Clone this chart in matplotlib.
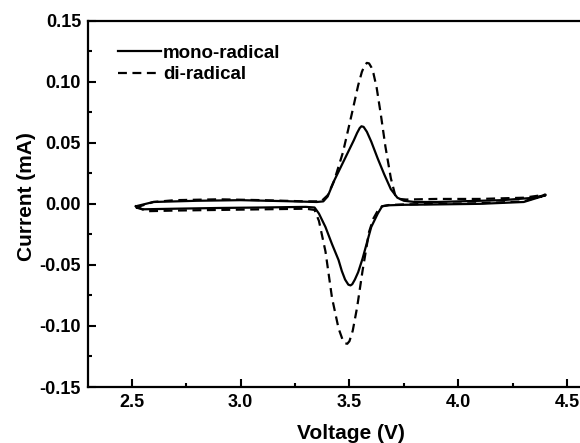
import matplotlib
matplotlib.use("Agg")
from matplotlib import pyplot as plt
from matplotlib.ticker import MultipleLocator

plt.rcParams['font.family'] = ['Liberation Sans', 'DejaVu Sans']
plt.rcParams['font.weight'] = 'bold'

# mono-radical, anodic sweep then cathodic sweep
mono_v = [2.52, 2.6, 2.8, 3.0, 3.2, 3.35, 3.38, 3.40, 3.43, 3.46, 3.49, 3.52, 3.535, 3.547, 3.555,
          3.565, 3.58, 3.60, 3.63, 3.66, 3.69, 3.72, 3.75, 3.8, 3.9, 4.0, 4.2, 4.35, 4.40,
          4.3, 4.1, 3.9, 3.75, 3.68, 3.65, 3.63, 3.60, 3.58, 3.56, 3.54, 3.525, 3.513, 3.505, 3.495,
          3.48, 3.465, 3.45, 3.42, 3.39, 3.36, 3.34, 3.3, 3.1, 2.9, 2.7, 2.55, 2.52]
mono_i = [-0.002, 0.0015, 0.0025, 0.003, 0.0022, 0.0015, 0.002, 0.006, 0.019, 0.030, 0.041, 0.052, 0.058, 0.062, 0.0635,
          0.063, 0.059, 0.051, 0.037, 0.024, 0.012, 0.005, 0.0025, 0.0015, 0.0015, 0.002, 0.003, 0.005, 0.007,
          0.0015, 0.0, -0.0005, -0.0008, -0.0012, -0.002, -0.008, -0.019, -0.032, -0.045, -0.056, -0.062, -0.0658, -0.0668, -0.0662,
          -0.062, -0.055, -0.046, -0.033, -0.019, -0.008, -0.003, -0.0025, -0.003, -0.0034, -0.004, -0.0045, -0.002]

# di-radical, anodic sweep then cathodic sweep
di_v = [2.52, 2.6, 2.7, 2.9, 3.1, 3.3, 3.37, 3.40, 3.43, 3.47, 3.51, 3.54, 3.557, 3.57, 3.58,
        3.59, 3.60, 3.61, 3.625, 3.645, 3.665, 3.69, 3.71, 3.73, 3.76, 3.9, 4.1, 4.3, 4.40,
        4.3, 4.1, 3.9, 3.75, 3.68, 3.65, 3.635, 3.61, 3.59, 3.56, 3.535, 3.515, 3.50, 3.49,
        3.48, 3.468, 3.45, 3.42, 3.39, 3.36, 3.34, 3.3, 3.1, 2.9, 2.7, 2.58, 2.52]
di_i = [-0.003, 0.0015, 0.003, 0.0037, 0.003, 0.002, 0.002, 0.007, 0.019, 0.042, 0.073, 0.097, 0.108, 0.1135, 0.1154,
        0.1150, 0.112, 0.107, 0.095, 0.072, 0.047, 0.021, 0.007, 0.004, 0.0035, 0.004, 0.004, 0.005, 0.0075,
        0.002, 0.0005, 0.0, -0.0005, -0.001, -0.002, -0.004, -0.012, -0.023, -0.055, -0.085, -0.104, -0.1125, -0.1146,
        -0.1142, -0.111, -0.102, -0.077, -0.039, -0.014, -0.005, -0.004, -0.0045, -0.005, -0.0055, -0.006, -0.003]

fig = plt.figure(figsize=(5.8, 4.43), dpi=100)
ax = fig.add_axes([0.1517, 0.1264, 0.864, 0.827])

ax.plot(mono_v, mono_i, color='black', lw=1.6, linestyle='solid', label='mono-radical')
ax.plot(di_v, di_i, color='black', lw=1.6, linestyle=(0, (4, 2.5)), label='di-radical')

ax.set_xlim(2.3, 4.6)
ax.set_ylim(-0.15, 0.15)
ax.xaxis.set_major_locator(MultipleLocator(0.5))
ax.xaxis.set_minor_locator(MultipleLocator(0.25))
ax.yaxis.set_major_locator(MultipleLocator(0.05))
ax.yaxis.set_minor_locator(MultipleLocator(0.025))
ax.set_xticks([2.5, 3.0, 3.5, 4.0, 4.5])
ax.set_xticklabels(['2.5', '3.0', '3.5', '4.0', '4.5'])
ax.set_yticks([-0.15, -0.10, -0.05, 0.0, 0.05, 0.10, 0.15])
ax.set_yticklabels(['-0.15', '-0.10', '-0.05', '0.00', '0.05', '0.10', '0.15'])

ax.tick_params(which='both', direction='in', width=1.5, labelsize=13, pad=5)
ax.tick_params(which='major', length=5.5)
ax.tick_params(which='minor', length=3)
for s in ax.spines.values():
    s.set_linewidth(1.6)

ax.set_xlabel('Voltage (V)', fontsize=15, fontweight='bold')
ax.set_ylabel('Current (mA)', fontsize=15, fontweight='bold')
ax.xaxis.set_label_coords(0.525, -0.1)
ax.yaxis.set_label_coords(-0.104, 0.521)

ax.legend(loc='upper left', bbox_to_anchor=(0.06, 0.935), frameon=False, fontsize=13.5,
          handlelength=2.3, handletextpad=0.1, borderpad=0, borderaxespad=0, labelspacing=0.25)

plt.savefig('out.png', dpi=100)
